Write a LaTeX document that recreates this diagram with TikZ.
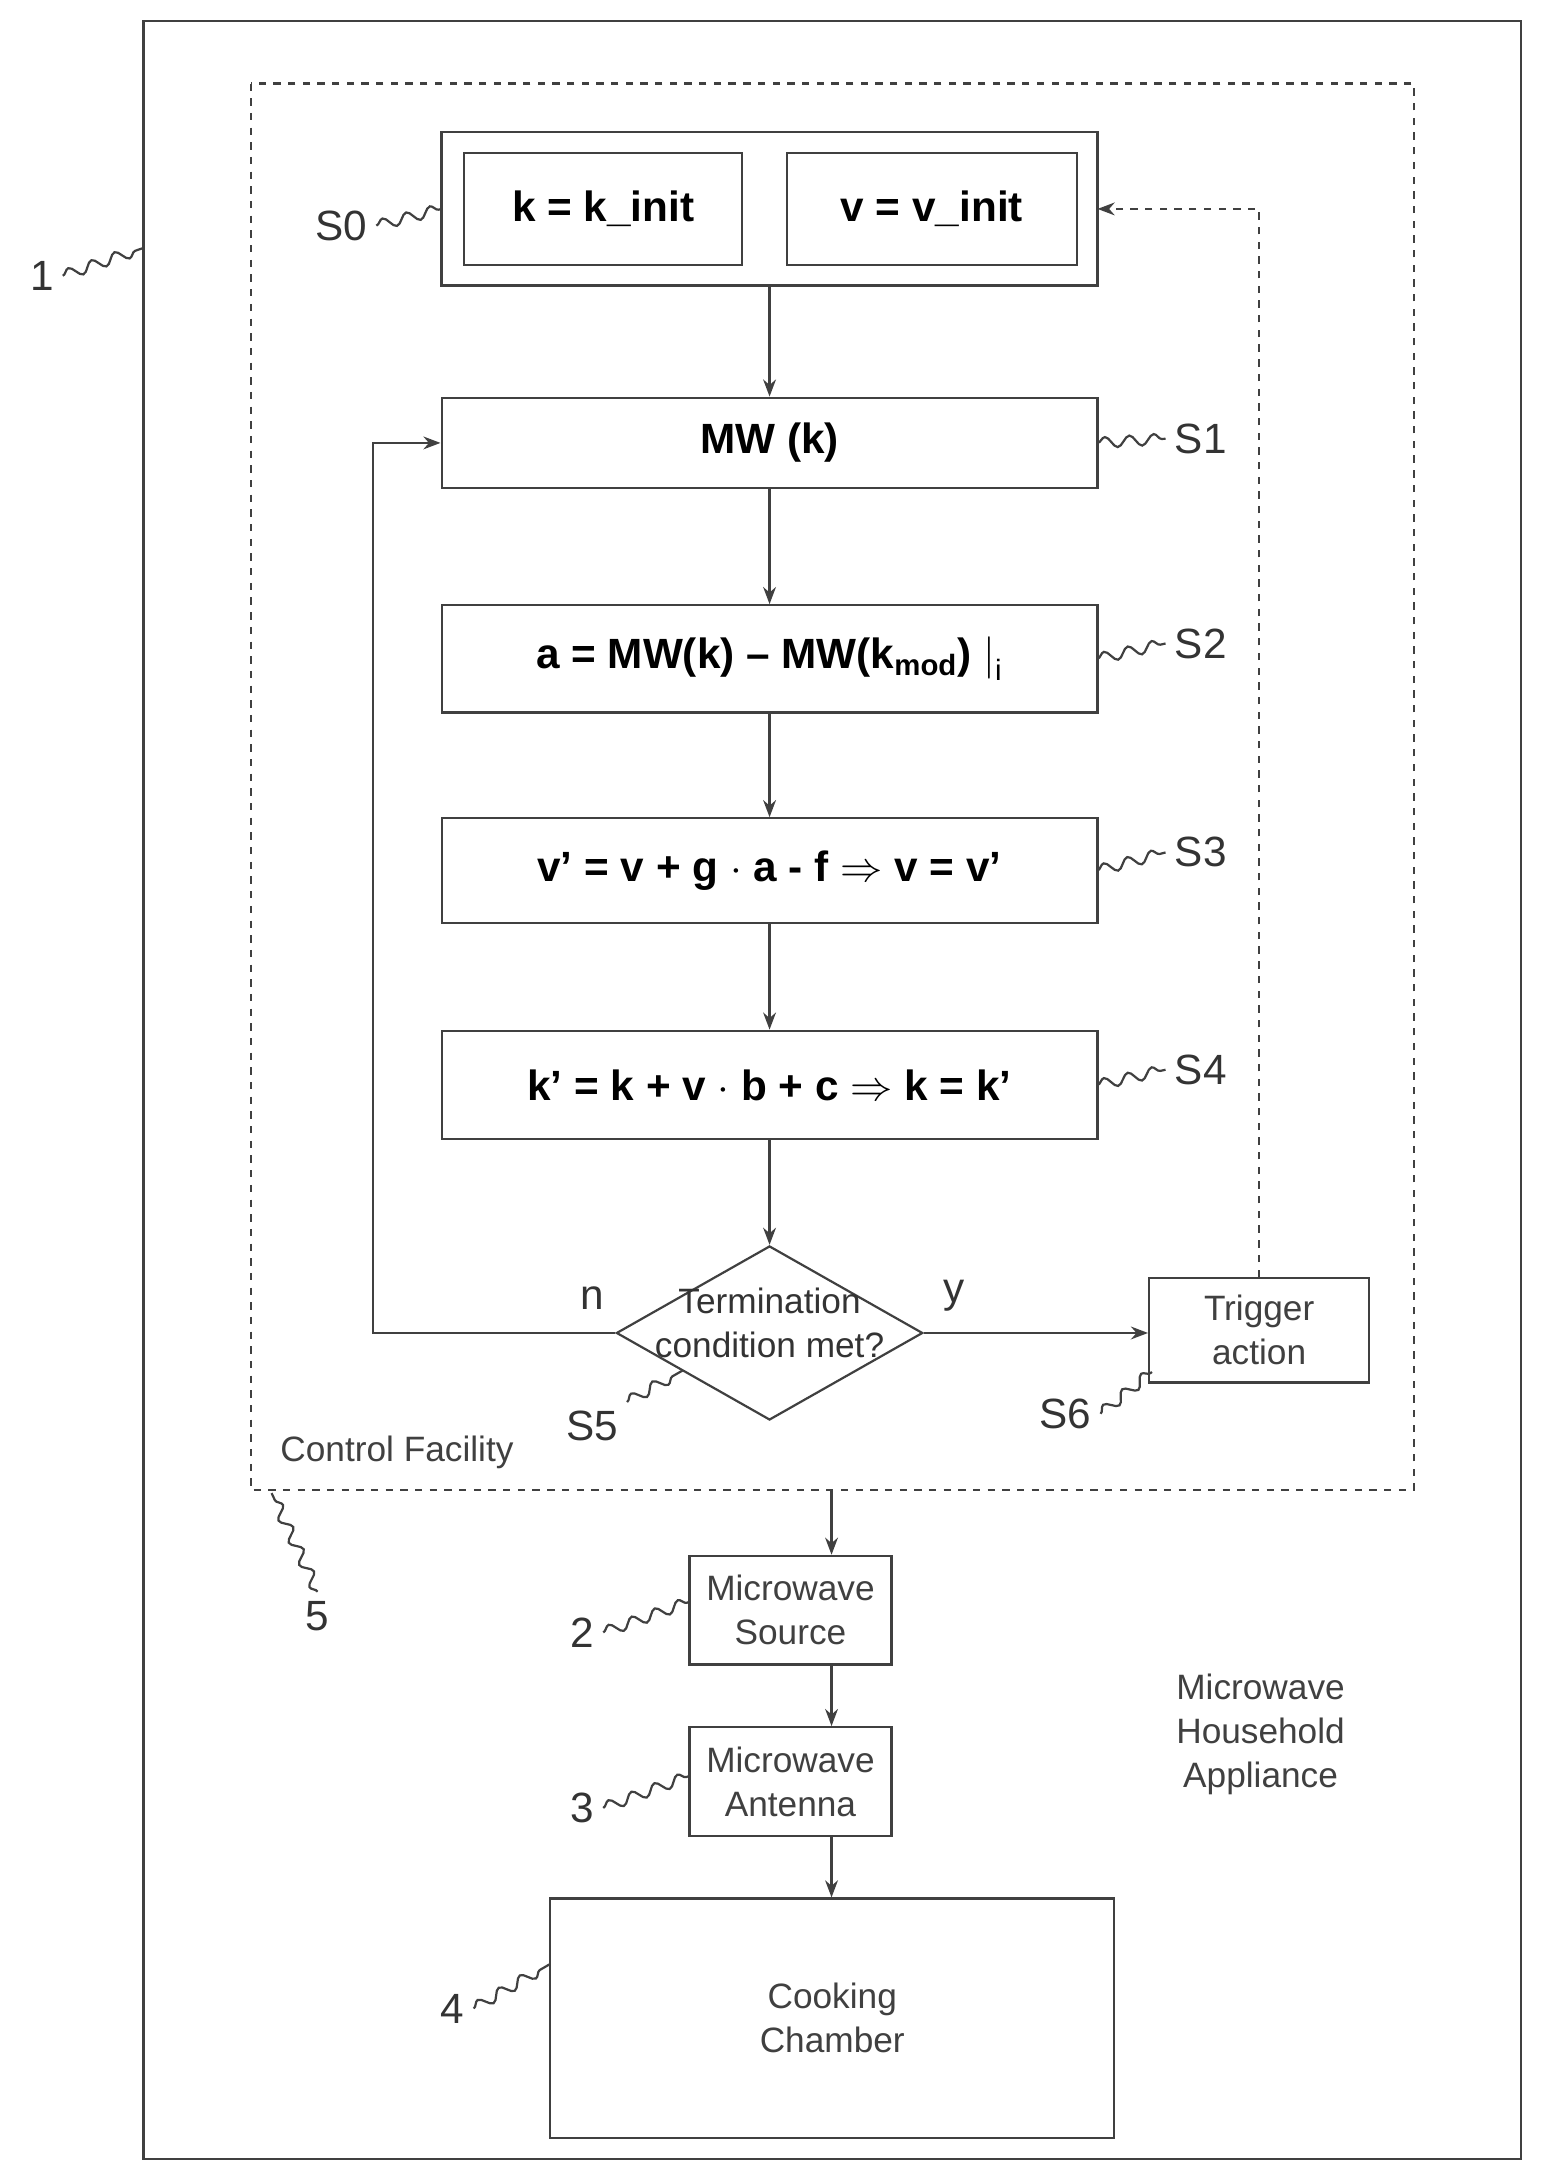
\documentclass[tikz,border=0pt]{standalone}
\usepackage{fontspec}
\setmainfont{Liberation Sans}
\usetikzlibrary{shapes.geometric,arrows.meta,decorations.pathmorphing}
\begin{document}
\begin{tikzpicture}[x=0.02cm,y=-0.02cm,line width=0.9pt,draw=black!75,
  step box/.style={draw,rectangle,minimum height=1.4cm,font=\bfseries\LARGE},
  part box/.style={draw,rectangle,align=center,font=\Large,text=black!75},
  ref/.style={font=\LARGE,text=black!80},
  flow/.style={-{Stealth[length=7pt]}},
  wave/.style={decorate,decoration={snake,amplitude=2.2pt,segment length=10pt}}]
  \useasboundingbox (0,0) rectangle (1110,1568);

  % frames
  \draw (103,15) rectangle (1092,1550);
  \draw[dashed] (180,60) rectangle (1015,1070);

  % steps
  \draw (317,95) rectangle (788,205);
  \coordinate (s0r) at (788,150);
  \node[step box,minimum width=4cm,minimum height=1.6cm] (kinit) at (433,150) {k = k\_init};
  \node[step box,minimum width=4.16cm,minimum height=1.6cm] (vinit) at (669,150) {v = v\_init};
  \coordinate (s0b) at (552.5,205);
  \node[step box,minimum width=9.42cm,minimum height=1.3cm] (s1) at (552.5,318) {MW (k)};
  \node[step box,minimum width=9.42cm,minimum height=1.54cm] (s2) at (552.5,473)
    {a = MW(k) -- MW(k$_{\mathrm{\bf mod}}$) $\big|_{\mathrm{i}}$};
  \node[step box,minimum width=9.42cm,minimum height=1.5cm] (s3) at (552.5,625)
    {v' = v + g $\cdot$ a - f $\Rightarrow$ v = v'};
  \node[step box,minimum width=9.42cm,minimum height=1.56cm] (s4) at (552.5,779)
    {k' = k + v $\cdot$ b + c $\Rightarrow$ k = k'};
  \node[draw,diamond,minimum width=4.4cm,minimum height=2.5cm,inner sep=0pt] (s5) at (552.5,957) {};
  \node[align=center,font=\Large,text=black!80] (s5txt) at (552.5,950) {Termination\\condition met?};
  \node[part box,minimum width=3.16cm,minimum height=1.5cm] (s6) at (904,955) {Trigger\\action};

  \draw[flow] (s0b) -- (s1);
  \draw[flow] (s1) -- (s2);
  \draw[flow] (s2) -- (s3);
  \draw[flow] (s3) -- (s4);
  \draw[flow] (s4) -- (s5);
  \draw[flow] (s5.west) -- (268,957) |- (s1.west);
  \draw[flow] (s5.east) -- (s6.west|-s5.east);
  \draw[flow,dashed] (s6.north) |- (s0r);
  \node[ref] at (425,932) {n};
  \node[ref] at (685,930) {y};

  % appliance parts
  \node[part box,minimum width=2.9cm,minimum height=1.56cm] (src) at (567.5,1156) {Microwave\\Source};
  \node[part box,minimum width=2.9cm,minimum height=1.56cm] (ant) at (567.5,1279) {Microwave\\Antenna};
  \node[part box,minimum width=8.1cm,minimum height=3.44cm] (chamber) at (597.5,1449) {Cooking\\Chamber};
  \coordinate (cf) at (597,1070);
  \draw[flow] (cf) -- (cf|-src.north);
  \draw[flow] (src.south-|cf) -- (cf|-ant.north);
  \draw[flow] (ant.south-|cf) -- (chamber.north-|cf);

  \node[font=\Large,text=black!75] (cflab) at (285,1043) {Control Facility};
  \node[font=\Large,text=black!75,align=center] (mha) at (905,1245) {Microwave\\Household\\Appliance};

  % reference signs
  \node[ref] (r1) at (30,198) {1};
  \draw[wave] (r1.east) -- (103,178);
  \node[ref] (rs0) at (245,162) {S0};
  \draw[wave] (rs0.east) -- (317,150);
  \node[ref] (rs1) at (862,315) {S1};
  \draw[wave] (788,318) -- (rs1.west);
  \node[ref] (rs2) at (862,462) {S2};
  \draw[wave] (788,473) -- (rs2.west);
  \node[ref] (rs3) at (862,612) {S3};
  \draw[wave] (788,625) -- (rs3.west);
  \node[ref] (rs4) at (862,768) {S4};
  \draw[wave] (788,779) -- (rs4.west);
  \node[ref] (rs5) at (425,1024) {S5};
  \draw[wave] (rs5.north east) -- (490,984);
  \node[ref] (rs6) at (765,1015) {S6};
  \draw[wave] (rs6.east) -- (827,985);
  \node[ref] (r5) at (228,1160) {5};
  \draw[wave] (r5.north) -- (195,1072);
  \node[ref] (r2) at (418,1172) {2};
  \draw[wave] (r2.east) -- (495,1150);
  \node[ref] (r3) at (418,1298) {3};
  \draw[wave] (r3.east) -- (495,1275);
  \node[ref] (r4) at (325,1442) {4};
  \draw[wave] (r4.east) -- (395,1410);
\end{tikzpicture}
\end{document}
